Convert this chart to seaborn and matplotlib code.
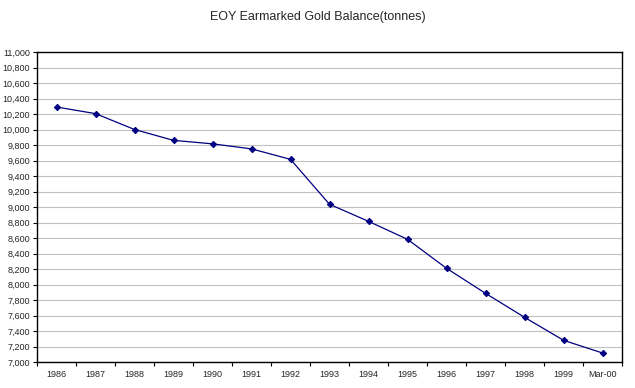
import numpy as np
import pandas as pd
import matplotlib
matplotlib.use("Agg")
import matplotlib.pyplot as plt
from matplotlib.ticker import FixedLocator, FuncFormatter
import seaborn as sns

years = ["1986", "1987", "1988", "1989", "1990", "1991", "1992", "1993",
         "1994", "1995", "1996", "1997", "1998", "1999", "Mar-00"]
balance = [10290, 10205, 10000, 9860, 9815, 9750, 9615, 9035,
           8815, 8583, 8209, 7886, 7577, 7280, 7116]
y_ticks = list(range(7000, 11001, 200))

df = pd.DataFrame({"year": years, "balance": balance})

sns.set_style("white")
plt.rcParams["font.family"] = ["Liberation Sans", "DejaVu Sans"]

fig = plt.figure(figsize=(6.35, 3.88), dpi=100)
ax = fig.add_axes([37 / 635, 1 - 362 / 388, 585 / 635, 310 / 388])

sns.lineplot(data=df, x="year", y="balance", sort=False, ax=ax,
             color="#000080", linewidth=0.9, marker="D", markersize=3.2,
             markeredgecolor="#000080", markerfacecolor="#000080")

ax.set_xlim(-0.5, len(years) - 0.5)
ax.set_ylim(7000, 11000)
ax.set_yticks(y_ticks)
ax.yaxis.set_major_formatter(FuncFormatter(lambda v, p: f"{int(v):,}"))
ax.grid(axis="y", color="#c0c0c0", linewidth=0.8)
ax.set_axisbelow(True)

ax.set_xticks(range(len(years)))
ax.set_xticklabels(years)
ax.xaxis.set_minor_locator(FixedLocator(np.arange(-0.5, len(years), 1)))
ax.tick_params(axis="x", which="major", length=0, pad=6, labelsize=6.5)
ax.tick_params(axis="x", which="minor", length=3, width=0.8, direction="out",
               color="black", bottom=True)
ax.tick_params(axis="y", length=3, width=0.8, direction="out", color="black",
               left=True, labelsize=6.5, pad=2)

for side in ["left", "right", "top", "bottom"]:
    ax.spines[side].set_visible(True)
    ax.spines[side].set_color("black")
    ax.spines[side].set_linewidth(1.0)

ax.set_xlabel("")
ax.set_ylabel("")
fig.text(0.5, 1 - 17 / 388, "EOY Earmarked Gold Balance(tonnes)",
         ha="center", va="center", fontsize=9)

fig.savefig("out.png", dpi=100)
